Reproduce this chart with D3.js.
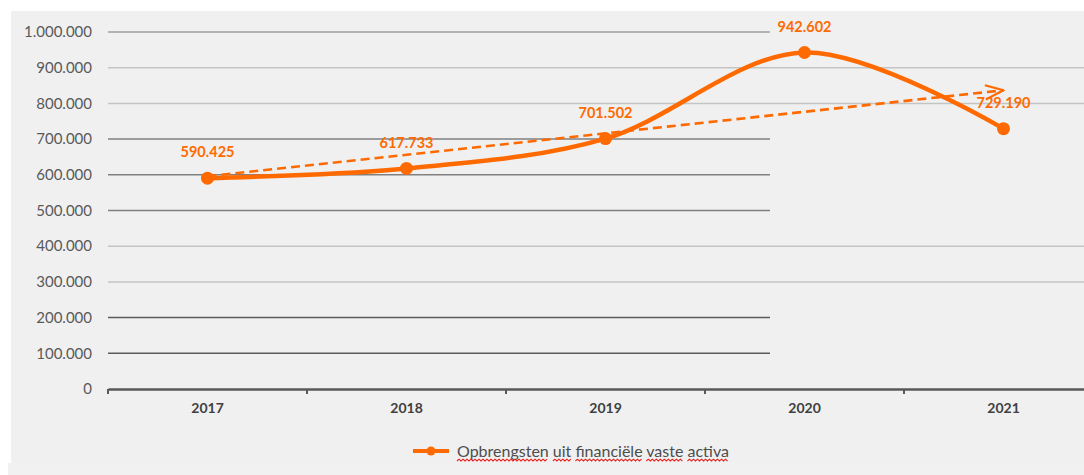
<!DOCTYPE html>
<html>
<head>
<meta charset="utf-8">
<script src="https://cdn.jsdelivr.net/npm/d3@7"></script>
<style>
  html, body { margin: 0; padding: 0; background: #ffffff; }
  svg { display: block; }
</style>
</head>
<body>
<svg id="chart" width="1084" height="475"></svg>
<script>
// Data: annual income from financial fixed assets
const years = ["2017", "2018", "2019", "2020", "2021"];
const values = [590425, 617733, 701502, 942602, 729190];
const seriesName = "Opbrengsten uit financiële vaste activa";

// Value-axis ticks; the gridlines come in two kinds (short dark, full-width light)
const yTicks = [0, 100000, 200000, 300000, 400000, 500000, 600000, 700000, 800000, 900000, 1000000];
const gridShort = [100000, 200000, 500000, 600000, 700000, 1000000];
const gridLong = [300000, 400000, 800000, 900000];

const orange = "#ff6a00";
const fmt = v => d3.format(",")(v).replace(/,/g, ".");

const svg = d3.select("#chart");
const W = 1084, H = 475;

// background panel
svg.append("rect").attr("x", 11).attr("y", 11).attr("width", W - 11).attr("height", 452).attr("fill", "#f0f0f0");
svg.append("rect").attr("x", 8).attr("y", 463).attr("width", W - 8).attr("height", 12).attr("fill", "#f1f1f1");

const x = d3.scaleBand().domain(years).range([108, 108 + 5 * 199]).padding(0);
const y = d3.scaleLinear().domain([0, 1000000]).range([389, 32]);

svg.append("clipPath").attr("id", "plotclip")
  .append("rect").attr("x", 0).attr("y", 0).attr("width", W).attr("height", H);

const g = svg.append("g").attr("clip-path", "url(#plotclip)");

// gridlines
g.selectAll("line.glong").data(gridLong).join("line")
  .attr("x1", 108).attr("x2", W).attr("y1", d => y(d)).attr("y2", d => y(d))
  .attr("stroke", "#c4c4c4").attr("stroke-width", 1.5);
g.selectAll("line.gshort").data(gridShort).join("line")
  .attr("x1", 108).attr("x2", 770).attr("y1", d => y(d)).attr("y2", d => y(d))
  .attr("stroke", d => d >= 1000000 ? "#a0a0a0" : (d >= 500000 ? "#808080" : "#5a5a5a"))
  .attr("stroke-width", 1.5);

// value axis labels
svg.append("g").selectAll("text").data(yTicks).join("text")
  .attr("x", 92).attr("y", d => y(d)).attr("dy", "0.35em")
  .attr("text-anchor", "end")
  .attr("font-family", "Lato, 'Open Sans', sans-serif").attr("font-size", 15)
  .attr("fill", "#595959")
  .text(d => fmt(d));

// category axis
const xAxis = d3.axisBottom(x).tickSize(0).tickPadding(14);
const ax = g.append("g").attr("transform", `translate(0,${y(0)})`).call(xAxis);
ax.select(".domain").attr("stroke", "#595959").attr("stroke-width", 2.5);
ax.selectAll("text")
  .attr("font-family", "Lato, 'Open Sans', sans-serif").attr("font-size", 14)
  .attr("font-weight", "bold").attr("fill", "#404040");
// boundary tick marks between categories
const bounds = years.map(d => x(d)).concat([x(years[4]) + x.bandwidth()]);
g.selectAll("line.btick").data(bounds).join("line")
  .attr("x1", d => d).attr("x2", d => d)
  .attr("y1", y(0)).attr("y2", y(0) + 5)
  .attr("stroke", "#595959").attr("stroke-width", 2);

// linear trend (least squares) drawn as dashed arrow
const n = values.length;
const idx = values.map((v, i) => i);
const mx = d3.mean(idx), my = d3.mean(values);
const slope = d3.sum(idx, i => (i - mx) * (values[i] - my)) / d3.sum(idx, i => (i - mx) ** 2);
const trendVals = [my - slope * mx, my + slope * (n - 1 - mx)];
const cx = d => x(d) + x.bandwidth() / 2;

const defs = svg.append("defs");
defs.append("marker").attr("id", "arrow")
  .attr("viewBox", "0 0 20 16").attr("refX", 19).attr("refY", 8)
  .attr("markerWidth", 20).attr("markerHeight", 16)
  .attr("markerUnits", "userSpaceOnUse").attr("orient", "auto")
  .append("path").attr("d", "M1,1 L19,8 L1,15")
  .attr("fill", "none").attr("stroke", orange).attr("stroke-width", 2.2);

g.append("line")
  .attr("x1", cx(years[0])).attr("y1", y(trendVals[0]))
  .attr("x2", cx(years[n - 1])).attr("y2", y(trendVals[1]))
  .attr("stroke", orange).attr("stroke-width", 2.6)
  .attr("stroke-dasharray", "9,5")
  .attr("marker-end", "url(#arrow)");

// smoothed series line
const line = d3.line()
  .x((d, i) => cx(years[i]))
  .y(d => y(d))
  .curve(d3.curveCatmullRom.alpha(0));
g.append("path").datum(values)
  .attr("d", line)
  .attr("fill", "none").attr("stroke", orange).attr("stroke-width", 4.5)
  .attr("stroke-linecap", "round");

g.selectAll("circle.pt").data(values).join("circle")
  .attr("cx", (d, i) => cx(years[i])).attr("cy", d => y(d)).attr("r", 6.5)
  .attr("fill", orange);

// data labels
g.selectAll("text.lbl").data(values).join("text")
  .attr("x", (d, i) => cx(years[i])).attr("y", d => y(d) - 26).attr("dy", "0.35em")
  .attr("text-anchor", "middle")
  .attr("font-family", "Lato, 'Open Sans', sans-serif").attr("font-size", 14.5)
  .attr("font-weight", "bold").attr("fill", orange)
  .text(d => fmt(d));

// legend
const lg = svg.append("g");
lg.append("line").attr("x1", 413).attr("x2", 449).attr("y1", 451).attr("y2", 451)
  .attr("stroke", orange).attr("stroke-width", 4);
lg.append("circle").attr("cx", 431).attr("cy", 451).attr("r", 4.5).attr("fill", orange);
const lt = lg.append("text").attr("x", 457).attr("y", 451).attr("dy", "0.35em")
  .attr("font-family", "Lato, 'Open Sans', sans-serif").attr("font-size", 16)
  .attr("fill", "#4d4d4d").text(seriesName);

// spell-check style wavy underline under each word
const node = lt.node();
let pos = 0;
seriesName.split(" ").forEach(word => {
  const start = node.getSubStringLength(0, pos);
  const w = node.getSubStringLength(pos, word.length);
  pos += word.length + 1;
  const x0 = 457 + start, x1 = x0 + w, yy = 461;
  let d = `M${x0},${yy}`;
  let up = true;
  for (let xx = x0 + 2; xx <= x1; xx += 2) {
    d += ` L${xx},${up ? yy - 1.8 : yy}`;
    up = !up;
  }
  lg.append("path").attr("d", d).attr("fill", "none")
    .attr("stroke", "#e8201a").attr("stroke-width", 1.1);
});
</script>
</body>
</html>
